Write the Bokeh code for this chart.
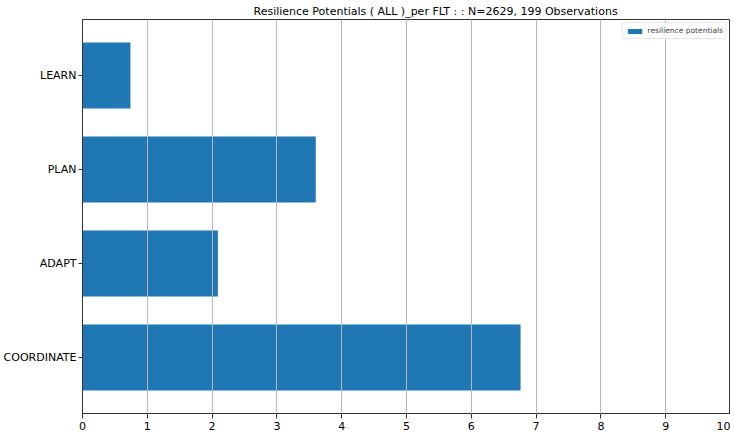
from bokeh.plotting import figure
from bokeh.models import FactorRange, Range1d, FixedTicker
from bokeh.embed import file_html
from bokeh.resources import INLINE

# data (bottom to top)
categories = ["COORDINATE", "ADAPT", "PLAN", "LEARN"]
values = [6.76, 2.09, 3.60, 0.74]
x_ticks = [0, 1, 2, 3, 4, 5, 6, 7, 8, 9, 10]
title_text = "Resilience Potentials ( ALL )_per FLT : : N=2629, 199 Observations"
legend_text = "resilience potentials"

FONT = "DejaVu Sans"

p = figure(
    frame_width=648, frame_height=394,
    y_range=FactorRange(factors=categories, range_padding=0.048),
    x_range=Range1d(0, 10),
    output_backend="svg", toolbar_location=None,
    title=title_text,
    min_border_left=74, min_border_right=0, min_border_top=0, min_border_bottom=0,
)

p.hbar(y=categories, right=values, left=0, height=0.7, color="#1f77b4",
       line_color=None, legend_label=legend_text)

p.title.align = "left"
p.title.text_font = FONT
p.title.text_font_size = "11px"
p.title.text_font_style = "normal"
p.title.text_color = "black"
p.title.standoff = 4
p.title.offset = 171

p.outline_line_color = "#333333"
p.outline_line_width = 1

for ax in (p.xaxis[0], p.yaxis[0]):
    ax.axis_line_color = "#333333"
    ax.major_tick_line_color = "#333333"
    ax.major_tick_out = 4
    ax.major_tick_in = 0
    ax.minor_tick_line_color = None
    ax.major_label_text_font = FONT
    ax.major_label_text_font_size = "11px"
    ax.major_label_text_color = "black"
    ax.major_label_standoff = 2

p.xaxis[0].ticker = FixedTicker(ticks=x_ticks)
p.xaxis[0].major_tick_out = 5
p.xaxis[0].major_label_standoff = 3

p.ygrid.visible = False
p.xgrid.grid_line_color = "#b8b8b8"
p.xgrid.grid_line_width = 1
p.xgrid.level = "guide"
p.xgrid.ticker = FixedTicker(ticks=x_ticks)

p.legend.location = "top_right"
p.legend.label_text_font = FONT
p.legend.label_text_font_size = "7.5px"
p.legend.glyph_width = 18
p.legend.glyph_height = 6
p.legend.label_height = 8
p.legend.padding = 3
p.legend.spacing = 0
p.legend.margin = 3
p.legend.border_line_color = "#cccccc"
p.legend.border_line_width = 1
p.legend.border_radius = 3
p.legend.background_fill_alpha = 0.8
p.legend.label_standoff = 4

open("out.html", "w").write(file_html(p, INLINE))
